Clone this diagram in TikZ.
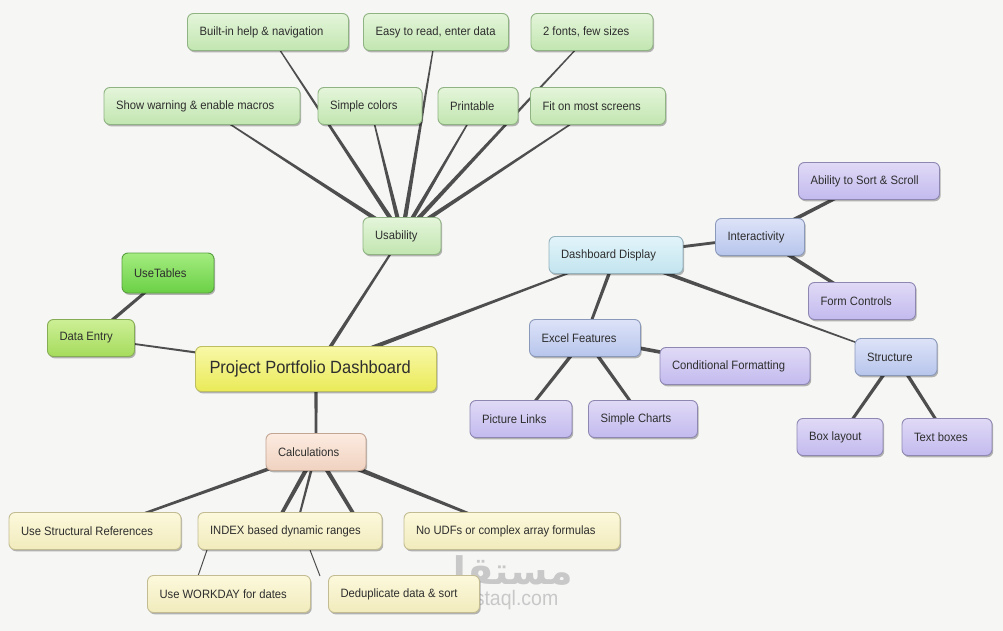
\documentclass[tikz,border=0pt]{standalone}
\usepackage{fontspec}
\setmainfont{Liberation Sans}[FakeStretch=0.93]
\newfontfamily\arabicfont[Script=Arabic]{DejaVu Sans Bold}
\TeXXeTstate=1
\usetikzlibrary{positioning, calc, shadows}
\pgfdeclarelayer{bg}
\pgfsetlayers{bg,main}

\definecolor{paper}{HTML}{F6F6F5}
\definecolor{linkcol}{HTML}{4E4E4E}
\definecolor{txt}{HTML}{2E2E2E}
\definecolor{wmark}{HTML}{C8C8C8}

% tapered connector: from, to, half width at from, half width at to
\newcommand{\tlink}[4]{%
  \fill[linkcol] ($(#1)!#3!90:(#2)$) -- ($(#2)!#4!-90:(#1)$)
    -- ($(#2)!#4!90:(#1)$) -- ($(#1)!#3!-90:(#2)$) -- cycle;}

\tikzset{
  box/.style={rectangle, rounded corners=6pt, minimum height=37pt, inner xsep=12pt, inner ysep=0pt,
    align=flush left, line width=0.9pt, text=txt, font=\fontsize{12.1}{14}\selectfont,
    drop shadow={shadow xshift=1.2pt, shadow yshift=-1.8pt, opacity=0.28, fill=black}},
  usebox/.style={box, top color={rgb,255:red,228;green,245;blue,218}, bottom color={rgb,255:red,194;green,230;blue,176}, draw={rgb,255:red,143;green,179;blue,130}},
  rootbox/.style={box, minimum height=45pt, inner xsep=14pt, font=\fontsize{17.7}{20}\selectfont,
    top color={rgb,255:red,248;green,248;blue,168}, bottom color={rgb,255:red,234;green,234;blue,88}, draw={rgb,255:red,189;green,189;blue,98}},
  calcbox/.style={box, top color={rgb,255:red,252;green,235;blue,224}, bottom color={rgb,255:red,240;green,210;blue,192}, draw={rgb,255:red,194;green,165;blue,146}},
  creambox/.style={box, top color={rgb,255:red,252;green,249;blue,220}, bottom color={rgb,255:red,241;green,235;blue,188}, draw={rgb,255:red,195;green,188;blue,146}},
  databox/.style={box, top color={rgb,255:red,205;green,239;blue,150}, bottom color={rgb,255:red,165;green,220;blue,92}, draw={rgb,255:red,134;green,173;blue,85}},
  tabbox/.style={box, minimum height=40pt, top color={rgb,255:red,164;green,236;blue,128}, bottom color={rgb,255:red,106;green,208;blue,69}, draw={rgb,255:red,90;green,160;blue,64}},
  dashbox/.style={box, top color={rgb,255:red,226;green,244;blue,250}, bottom color={rgb,255:red,194;green,228;blue,239}, draw={rgb,255:red,148;green,178;blue,190}},
  midbox/.style={box, top color={rgb,255:red,220;green,227;blue,248}, bottom color={rgb,255:red,184;green,197;blue,236}, draw={rgb,255:red,138;green,152;blue,186}},
  leafbox/.style={box, top color={rgb,255:red,224;green,218;blue,246}, bottom color={rgb,255:red,195;green,186;blue,238}, draw={rgb,255:red,142;green,135;blue,178}}
}

\begin{document}
\begin{tikzpicture}[x=1pt, y=-1pt]
\begin{pgfonlayer}{bg}
  \fill[paper] (0,0) rectangle (1003,631);
\end{pgfonlayer}
\useasboundingbox (0,0) rectangle (1003,631);

\node[rootbox, text width=213pt] (root) at (316,369) {Project Portfolio Dashboard};

\node[usebox, text width=54pt] (use) at (402,236) {Usability};
\node[usebox, text width=137pt] (help) at (268,32) {Built-in help \& navigation};
\node[usebox, text width=121pt] (easy) at (436,32) {Easy to read, enter data};
\node[usebox, text width=98pt] (fonts) at (592,32) {2 fonts, few sizes};
\node[usebox, text width=172pt] (warn) at (202,106) {Show warning \& enable macros};
\node[usebox, text width=80pt] (colors) at (370,106) {Simple colors};
\node[usebox, text width=56pt] (print) at (478,106) {Printable};
\node[usebox, text width=111pt] (fit) at (598,106) {Fit on most screens};

\node[dashbox, text width=110pt] (dash) at (616,255) {Dashboard Display};
\node[midbox, text width=65pt] (inter) at (760,237) {Interactivity};
\node[leafbox, text width=117pt] (sort) at (869,181) {Ability to Sort \& Scroll};
\node[leafbox, text width=83pt] (form) at (862,301) {Form Controls};
\node[midbox, text width=87pt] (excel) at (585,338) {Excel Features};
\node[leafbox, text width=126pt] (cond) at (735,366) {Conditional Formatting};
\node[leafbox, text width=78pt] (pic) at (521,419) {Picture Links};
\node[leafbox, text width=85pt] (chart) at (643,419) {Simple Charts};
\node[midbox, text width=58pt] (struct) at (896,357) {Structure};
\node[leafbox, text width=62pt] (boxl) at (840,437) {Box layout};
\node[leafbox, text width=66pt] (textb) at (947,437) {Text boxes};

\node[databox, text width=63pt] (data) at (91,338) {Data Entry};
\node[tabbox, text width=68pt] (usetab) at (168,273) {UseTables};

\node[calcbox, text width=76pt] (calc) at (316,452) {Calculations};
\node[creambox, text width=148pt] (ref) at (95,531) {Use Structural References};
\node[creambox, text width=160pt] (idx) at (290,531) {INDEX based dynamic ranges};
\node[creambox, text width=192pt] (udf) at (512,531) {No UDFs or complex array formulas};
\node[creambox, text width=139pt] (work) at (229,594) {Use WORKDAY for dates};
\node[creambox, text width=127pt] (dedup) at (404,594) {Deduplicate data \& sort};

\coordinate (ia) at (282,513);
\coordinate (ib) at (300,513);
\coordinate (ic) at (353,513);
\coordinate (iw) at (207,550);
\coordinate (id) at (310,550);
\coordinate (wt) at (198,576);
\coordinate (dt) at (320,576);

\begin{pgfonlayer}{bg}
  \tlink{root}{use}{2pt}{0.9pt}
  \tlink{root}{dash}{2.4pt}{0.7pt}
  \tlink{root}{data}{1.3pt}{0.8pt}
  \tlink{root}{calc}{1.6pt}{1.4pt}
  \tlink{data}{usetab}{1.8pt}{1.3pt}
  \foreach \k in {help,easy,fonts,warn,colors,print,fit}
    \tlink{use}{\k}{2.3pt}{0.5pt};
  \tlink{dash}{inter}{1.6pt}{1.3pt}
  \tlink{dash}{excel}{1.8pt}{1.3pt}
  \tlink{dash}{struct}{2.2pt}{0.5pt}
  \tlink{inter}{sort}{2pt}{1.5pt}
  \tlink{inter}{form}{2pt}{1.5pt}
  \tlink{excel}{cond}{2pt}{1.6pt}
  \tlink{excel}{pic}{1.8pt}{1.4pt}
  \tlink{excel}{chart}{1.8pt}{1.4pt}
  \tlink{struct}{boxl}{1.8pt}{1.4pt}
  \tlink{struct}{textb}{1.8pt}{1.4pt}
  \tlink{calc}{ref}{2pt}{1pt}
  \tlink{calc}{ia}{2.2pt}{1.8pt}
  \tlink{calc}{ib}{1.4pt}{1pt}
  \tlink{calc}{ic}{2.2pt}{1.8pt}
  \tlink{calc}{udf}{2.6pt}{1pt}
  \tlink{iw}{wt}{0.5pt}{0.5pt}
  \tlink{id}{dt}{0.5pt}{0.5pt}
  % watermark, behind the boxes
  \node[text=wmark, font=\arabicfont\fontsize{38}{40}\selectfont] (wm) at (503,574) {\beginR مستقل\endR};
  \node[text=wmark, font=\fontsize{21}{23}\selectfont, below=-9pt of wm] (wmurl) {mostaql.com};
\end{pgfonlayer}
\end{tikzpicture}
\end{document}
